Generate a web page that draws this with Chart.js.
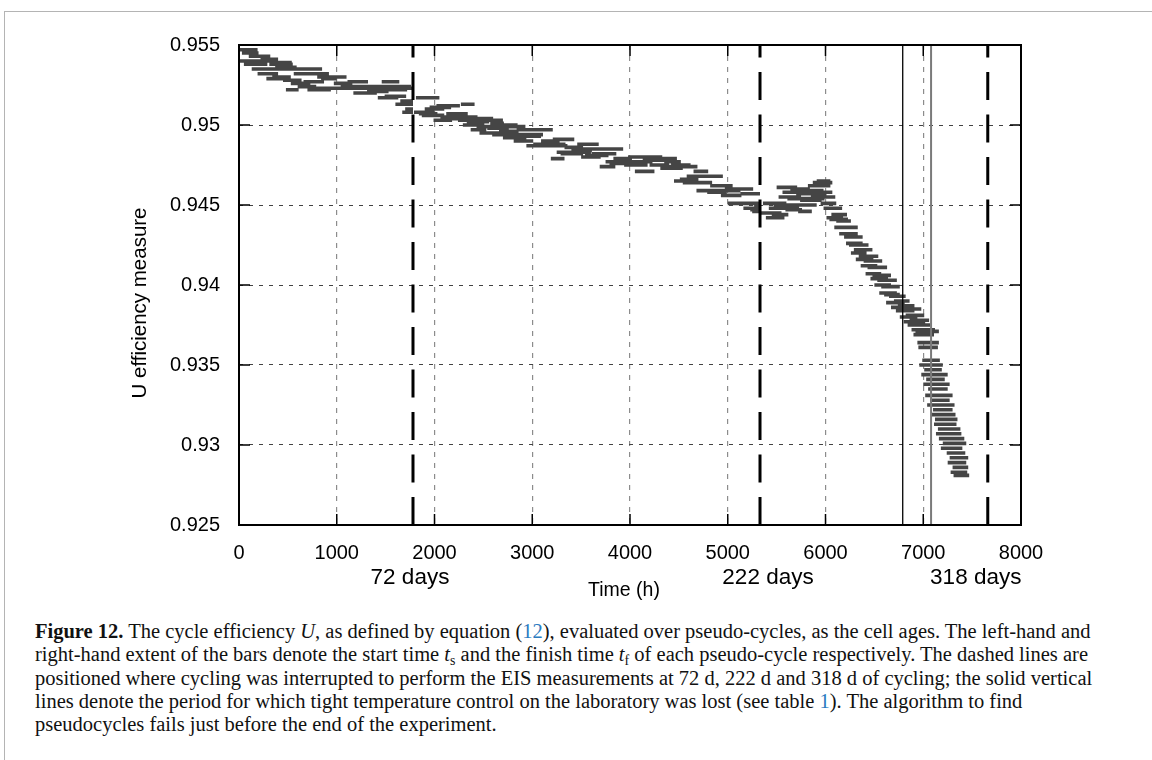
<!DOCTYPE html>
<html lang="en">
<head>
<meta charset="UTF-8">
<title>Cycle efficiency over pseudo-cycles</title>
<script src="https://cdn.jsdelivr.net/npm/chart.js"></script>
<style>
  body { margin: 0; background: #fff; width: 1152px; height: 760px; overflow: hidden; position: relative; }
  #frame { position: absolute; left: 4px; top: 11px; width: 1200px; height: 800px;
           border-top: 1px solid #b4b4b4; border-left: 1px solid #b4b4b4; }
  #chart { position: absolute; left: 0; top: 0; }
  #caption { position: absolute; left: 35px; top: 620px; font-family: 'Liberation Serif', serif;
             font-size: 20.5px; line-height: 23.3px; white-space: nowrap; color: #111; }
  #caption .ref { color: #2b7bbf; }
  #caption sub { font-size: 0.68em; line-height: 0; vertical-align: -0.3em; }
</style>
</head>
<body>
<div id="frame"></div>
<canvas id="chart" width="1152" height="610"></canvas>
<div id="caption">
  <div><b>Figure 12.</b> The cycle efficiency <i>U</i>, as defined by equation (<span class="ref">12</span>), evaluated over pseudo-cycles, as the cell ages. The left-hand and</div>
  <div>right-hand extent of the bars denote the start time <i>t</i><sub>s</sub> and the finish time <i>t</i><sub>f</sub> of each pseudo-cycle respectively. The dashed lines are</div>
  <div>positioned where cycling was interrupted to perform the EIS measurements at 72 d, 222 d and 318 d of cycling; the solid vertical</div>
  <div>lines denote the period for which tight temperature control on the laboratory was lost (see table <span class="ref">1</span>). The algorithm to find</div>
  <div>pseudocycles fails just before the end of the experiment.</div>
</div>
<script>
// pseudo-cycle start time ts (h)
const startHours = [
  0, 10, 30, 50, 70, 100, 130, 160, 190, 220, 250, 280, 310, 340, 370, 400, 420, 450, 480, 500,
  530, 560, 600, 630, 660, 700, 730, 760, 800, 840, 860, 900, 930, 970, 1000, 1040, 1070, 1110, 1150, 1170,
  1210, 1240, 1280, 1310, 1350, 1380, 1420, 1460, 1490, 1520, 1560, 1590, 1600, 1620, 1650, 1670, 1700,
  1790, 1810, 1840, 1870, 1900, 1930, 1950, 1990, 2020, 2060, 2090, 2120, 2160, 2200, 2240, 2270, 2290,
  2330, 2370, 2390, 2430, 2460, 2500, 2540, 2570, 2590, 2620, 2660, 2700, 2740, 2770, 2810, 2840, 2860,
  2900, 2940, 2970, 3010, 3050, 3090, 3120, 3160, 3190, 3210, 3250, 3290, 3330, 3360, 3400, 3440, 3460,
  3500, 3540, 3580, 3610, 3650, 3690, 3710, 3750, 3790, 3830, 3860, 3900, 3940, 3980, 4010, 4050, 4090,
  4130, 4160, 4200, 4240, 4280, 4310, 4350, 4380, 4420, 4450, 4470, 4510, 4540, 4580, 4620, 4650, 4680,
  4710, 4750, 4790, 4820, 4860, 4890, 4930, 4970, 5000, 5020, 5060, 5090, 5130, 5160, 5200, 5230, 5250, 5270,
  5340, 5360, 5390, 5420, 5450, 5470, 5500, 5520, 5540, 5560, 5590, 5610, 5640, 5670, 5700, 5720, 5740,
  5770, 5800, 5820, 5850, 5870, 5890, 5910, 5930, 5950, 5980, 6010, 6040, 6060, 6090, 6110, 6140, 6160,
  6190, 6210, 6240, 6260, 6290, 6310, 6340, 6360, 6390, 6410, 6430, 6460, 6480, 6500, 6530, 6550, 6570,
  6600, 6620, 6650, 6670, 6700, 6720, 6740, 6760, 6780, 6800, 6820, 6840, 6860, 6880, 6900, 6920, 6940,
  6950, 6990, 6960, 7010, 6980, 7030, 7000, 7050, 7020, 7070, 7040, 7100, 7080, 7120, 7110, 7150, 7130,
  7160, 7200, 7180, 7240, 7270, 7250, 7300, 7280, 7310
];

// pseudo-cycle finish time tf (h)
const finishHours = [
  190, 220, 200, 290, 270, 320, 320, 400, 400, 400, 480, 480, 550, 530, 590, 540, 630, 640, 610, 730,
  730, 800, 790, 850, 870, 940, 920, 990, 1000, 1000, 1100, 1110, 1150, 1160, 1240, 1240, 1300, 1320, 1300, 1410,
  1400, 1470, 1480, 1530, 1540, 1620, 1630, 1640, 1710, 1760, 1720, 1780, 1780, 1780, 1780, 1780, 1780,
  2000, 2050, 2030, 2100, 2100, 2070, 2170, 2180, 2260, 2270, 2270, 2340, 2360, 2440, 2430, 2410, 2510,
  2560, 2530, 2600, 2620, 2700, 2700, 2760, 2710, 2780, 2850, 2860, 2940, 2930, 2990, 3010, 2980, 3090,
  3110, 3130, 3210, 3210, 3270, 3280, 3360, 3340, 3330, 3430, 3450, 3520, 3520, 3600, 3610, 3590, 3680,
  3700, 3780, 3770, 3840, 3860, 3850, 3930, 3950, 4030, 4020, 4090, 4110, 4180, 4170, 4230, 4250, 4330,
  4310, 4380, 4400, 4480, 4470, 4540, 4520, 4590, 4620, 4590, 4690, 4700, 4780, 4780, 4840, 4800, 4870,
  4950, 4960, 4990, 5050, 5050, 5130, 5140, 5160, 5140, 5250, 5260, 5330, 5320, 5330, 5330, 5330, 5330, 5330,
  5550, 5600, 5580, 5640, 5620, 5670, 5710, 5750, 5730, 5800, 5760, 5830, 5840, 5910, 5890, 5860, 5960,
  5980, 5990, 6050, 6010, 6070, 6070, 6050, 6100, 6110, 6170, 6180, 6230, 6220, 6270, 6260, 6330, 6330,
  6380, 6380, 6440, 6420, 6480, 6490, 6540, 6530, 6580, 6570, 6630, 6640, 6670, 6670, 6730, 6730, 6760,
  6760, 6810, 6820, 6850, 6860, 6910, 6910, 6940, 6980, 7020, 7010, 7070, 7060, 7120, 7110, 7160, 7160,
  7150, 7170, 7200, 7190, 7250, 7220, 7270, 7250, 7300, 7270, 7320, 7300, 7330, 7350, 7340, 7380, 7390,
  7420, 7440, 7400, 7430, 7460, 7440, 7460, 7450, 7470
];

// cycle efficiency U of each pseudo-cycle
const efficiency = [
  0.9547, 0.9540, 0.9545, 0.9538, 0.9540, 0.9543, 0.9535, 0.9540, 0.9532, 0.9541, 0.9535, 0.9529, 0.9538, 0.9530, 0.9536, 0.9539, 0.9535, 0.9528, 0.9522, 0.9535,
  0.9526, 0.9532, 0.9524, 0.9535, 0.9527, 0.9522, 0.9532, 0.9523, 0.9530, 0.9529, 0.9530, 0.9523, 0.9523, 0.9526, 0.9523, 0.9524, 0.9523, 0.9527, 0.9527, 0.9520,
  0.9524, 0.9523, 0.9524, 0.9521, 0.9524, 0.9522, 0.9517, 0.9527, 0.9518, 0.9524, 0.9522, 0.9523, 0.9513, 0.9513, 0.9515, 0.9508, 0.9510,
  0.9508, 0.9517, 0.9507, 0.9506, 0.9510, 0.9510, 0.9511, 0.9503, 0.9512, 0.9504, 0.9505, 0.9507, 0.9505, 0.9505, 0.9503, 0.9513, 0.9500,
  0.9502, 0.9497, 0.9504, 0.9499, 0.9495, 0.9503, 0.9498, 0.9501, 0.9494, 0.9500, 0.9496, 0.9492, 0.9499, 0.9494, 0.9490, 0.9497, 0.9493,
  0.9494, 0.9487, 0.9497, 0.9488, 0.9487, 0.9490, 0.9487, 0.9488, 0.9479, 0.9491, 0.9483, 0.9482, 0.9486, 0.9483, 0.9484, 0.9485, 0.9488,
  0.9480, 0.9481, 0.9485, 0.9482, 0.9482, 0.9474, 0.9485, 0.9477, 0.9476, 0.9479, 0.9477, 0.9477, 0.9475, 0.9480, 0.9477, 0.9471, 0.9480,
  0.9478, 0.9478, 0.9475, 0.9479, 0.9478, 0.9473, 0.9477, 0.9474, 0.9475, 0.9465, 0.9474, 0.9466, 0.9464, 0.9468, 0.9464, 0.9471, 0.9459,
  0.9468, 0.9459, 0.9458, 0.9462, 0.9459, 0.9459, 0.9456, 0.9460, 0.9451, 0.9451, 0.9460, 0.9451, 0.9457, 0.9448, 0.9457, 0.9447, 0.9446, 0.9449,
  0.9445, 0.9451, 0.9442, 0.9448, 0.9444, 0.9450, 0.9461, 0.9455, 0.9449, 0.9458, 0.9447, 0.9454, 0.9460, 0.9450, 0.9457, 0.9446, 0.9453,
  0.9459, 0.9454, 0.9462, 0.9456, 0.9464, 0.9458, 0.9465, 0.9455, 0.9451, 0.9448, 0.9442, 0.9441, 0.9444, 0.9436, 0.9440, 0.9432, 0.9436,
  0.9430, 0.9426, 0.9425, 0.9420, 0.9422, 0.9416, 0.9418, 0.9412, 0.9415, 0.9407, 0.9411, 0.9404, 0.9406, 0.9400, 0.9403, 0.9395, 0.9399,
  0.9394, 0.9389, 0.9393, 0.9386, 0.9390, 0.9384, 0.9387, 0.9380, 0.9385, 0.9377, 0.9381, 0.9375, 0.9378, 0.9372, 0.9369, 0.9371, 0.9364,
  0.9361, 0.9353, 0.9350, 0.9347, 0.9344, 0.9341, 0.9338, 0.9335, 0.9331, 0.9328, 0.9325, 0.9322, 0.9319, 0.9316, 0.9313, 0.9310, 0.9307,
  0.9304, 0.9301, 0.9298, 0.9295, 0.9292, 0.9289, 0.9286, 0.9283, 0.9281
];

// EIS interruptions (dashed) and loss of temperature control (solid)
const eisHours = [1780, 5330, 7660];
const eisLabels = ['72 days', '222 days', '318 days'];
const eisLabelShift = [-3, 8, -12];
const tempLossHours = [6790, 7080];
const tempLossColors = ['#000000', '#7a7a7a'];

const xTicks = [0, 1000, 2000, 3000, 4000, 5000, 6000, 7000, 8000];
const yMin = 0.925, yMax = 0.955, yStep = 0.005;

// one segment per pseudo-cycle, broken with a null point
const barPoints = [];
startHours.forEach((t, i) => {
  barPoints.push({ x: t, y: efficiency[i] });
  barPoints.push({ x: finishHours[i], y: efficiency[i] });
  barPoints.push({ x: finishHours[i], y: null });
});

const vline = (h, color, width, dash) => ({
  data: [{ x: h, y: yMin }, { x: h, y: yMax }],
  showLine: true, borderColor: color, borderWidth: width, borderDash: dash,
  borderCapStyle: 'butt', pointRadius: 0, order: 1
});

const datasets = [{
  data: barPoints, showLine: true, spanGaps: false, borderColor: '#454545',
  borderWidth: 3.6, borderCapStyle: 'butt', pointRadius: 0, order: 2
}];
tempLossHours.forEach((h, i) => datasets.push(vline(h, tempLossColors[i], i === 0 ? 1.3 : 2, [])));
eisHours.forEach(h => datasets.push(vline(h, '#000', 3, [28, 14.5])));

// frame with inward ticks, axis titles and the EIS labels
const framePlugin = {
  id: 'frame',
  afterDatasetsDraw(chart) {
    const { ctx, chartArea: a, scales: { x, y } } = chart;
    ctx.save();
    ctx.strokeStyle = '#000';
    ctx.lineWidth = 1.5;
    ctx.beginPath();
    x.ticks.forEach(t => {
      const px = x.getPixelForValue(t.value);
      ctx.moveTo(px, a.bottom); ctx.lineTo(px, a.bottom - 11);
      ctx.moveTo(px, a.top); ctx.lineTo(px, a.top + 11);
    });
    y.ticks.forEach(t => {
      const py = y.getPixelForValue(t.value);
      ctx.moveTo(a.left, py); ctx.lineTo(a.left + 11, py);
      ctx.moveTo(a.right, py); ctx.lineTo(a.right - 11, py);
    });
    ctx.stroke();
    ctx.lineWidth = 2;
    ctx.strokeRect(a.left, a.top, a.right - a.left, a.bottom - a.top);
    ctx.restore();
  },
  afterDraw(chart) {
    const { ctx, chartArea: a, scales: { x } } = chart;
    ctx.save();
    ctx.fillStyle = '#000';
    ctx.textAlign = 'center';
    ctx.textBaseline = 'middle';
    ctx.font = '22.5px "Liberation Sans"';
    eisHours.forEach((h, i) => ctx.fillText(eisLabels[i], x.getPixelForValue(h) + eisLabelShift[i], 578));
    ctx.font = '19.5px "Liberation Sans"';
    ctx.fillText('Time (h)', (a.left + a.right) / 2 - 6, 591);
    ctx.translate(140, 303);
    ctx.rotate(-Math.PI / 2);
    ctx.font = '20.5px "Liberation Sans"';
    ctx.fillText('U efficiency measure', 0, 0);
    ctx.restore();
  }
};

Chart.defaults.font.family = '"Liberation Sans", Arial, sans-serif';
Chart.defaults.color = '#000';

new Chart(document.getElementById('chart'), {
  type: 'scatter',
  data: { datasets },
  plugins: [framePlugin],
  options: {
    responsive: false,
    animation: false,
    events: [],
    layout: { padding: { top: 45, right: 131, left: 0, bottom: 0 } },
    plugins: { legend: { display: false }, tooltip: { enabled: false } },
    scales: {
      x: {
        type: 'linear', min: 0, max: 8000,
        afterBuildTicks: s => { s.ticks = xTicks.map(v => ({ value: v })); },
        afterFit: s => { s.height = 85; s.paddingLeft = 0; s.paddingRight = 0; },
        grid: { color: '#8c8c8c', lineWidth: 1.2, drawTicks: false },
        border: { display: false, dash: [5, 6] },
        ticks: { font: { size: 20 }, padding: 16, maxRotation: 0, callback: v => String(v) }
      },
      y: {
        type: 'linear', min: yMin, max: yMax,
        ticks: { stepSize: yStep, font: { size: 20 }, padding: 19, callback: v => String(Number(v.toFixed(3))) },
        afterFit: s => { s.width = 239; s.paddingTop = 0; s.paddingBottom = 0; },
        grid: { color: '#444', lineWidth: 1, drawTicks: false },
        border: { display: false, dash: [4, 6] }
      }
    }
  }
});
</script>
</body>
</html>
